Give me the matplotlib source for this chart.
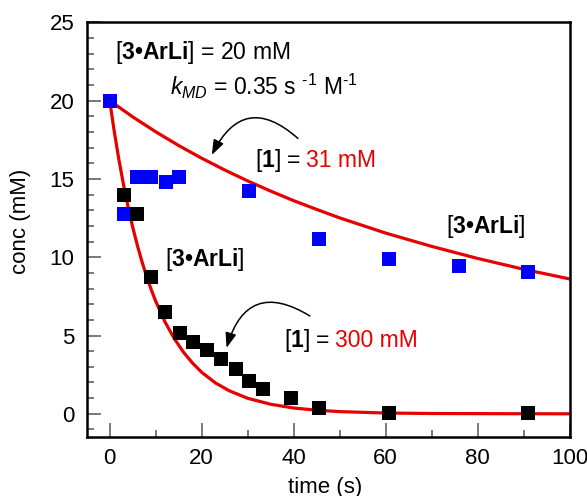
import matplotlib
matplotlib.use("Agg")
import matplotlib.pyplot as plt
from matplotlib.ticker import MultipleLocator
from matplotlib.offsetbox import TextArea, HPacker, AnnotationBbox

plt.rcParams['font.family'] = ['Liberation Sans', 'DejaVu Sans']
plt.rcParams['mathtext.fontset'] = 'custom'
plt.rcParams['mathtext.rm'] = 'Liberation Sans'
plt.rcParams['mathtext.it'] = 'Liberation Sans:italic'
plt.rcParams['mathtext.bf'] = 'Liberation Sans:bold'

# ---- data ----
blue_t = [0, 3.1, 6.0, 9.05, 12.2, 15.1, 30.3, 45.5, 60.7, 76.0, 91.0]
blue_c = [20.0, 12.75, 15.1, 15.15, 14.8, 15.15, 14.25, 11.18, 9.86, 9.44, 9.06]

black_t = [3.1, 6.0, 8.9, 12.1, 15.2, 18.1, 21.15, 24.3, 27.4, 30.3, 33.3, 39.35, 45.5, 60.7, 91.0]
black_c = [13.97, 12.74, 8.72, 6.5, 5.13, 4.6, 4.08, 3.52, 2.87, 2.07, 1.58, 0.99, 0.37, 0.02, 0.02]

fit31_t = [0, 5, 10, 15, 20, 25, 30, 35, 40, 45, 50, 60, 70, 80, 90, 100]
fit31_c = [20.0, 18.96, 18.01, 17.13, 16.32, 15.57, 14.87, 14.22, 13.61, 13.05, 12.51,
           11.54, 10.69, 9.92, 9.23, 8.61]

fit300_t = [0, 1, 2, 3, 4, 5, 6, 7, 8, 9, 10, 12, 14, 16, 18, 20, 23, 26, 30, 35,
            40, 45, 50, 60, 70, 80, 100]
fit300_c = [20.0, 18.01, 16.23, 14.64, 13.21, 11.92, 10.77, 9.73, 8.79, 7.95, 7.19,
            5.88, 4.82, 3.95, 3.24, 2.65, 1.97, 1.47, 0.99, 0.61, 0.37, 0.23, 0.14,
            0.05, 0.02, 0.01, 0.0]

x_ticks = [0, 20, 40, 60, 80, 100]
y_ticks = [0, 5, 10, 15, 20, 25]

RED = '#e60000'
BLUE = '#0000ff'
FS = 16
AFS = 16.5

fig = plt.figure(figsize=(5.87, 4.96), dpi=100)
ax = fig.add_axes([86.7 / 587, (496 - 437.3) / 496, 483 / 587, 415 / 496])

ax.plot(fit31_t, fit31_c, color=RED, lw=2.3, zorder=2, solid_capstyle='butt')
ax.plot(fit300_t, fit300_c, color=RED, lw=2.3, zorder=2, solid_capstyle='butt')
ax.plot(blue_t, blue_c, 's', color=BLUE, ms=9.4, mew=0, zorder=3)
ax.plot(black_t, black_c, 's', color='black', ms=9.4, mew=0, zorder=3)

ax.set_xlim(-5, 100)
ax.set_ylim(-1.5, 25)
ax.set_xticks(x_ticks)
ax.set_yticks(y_ticks)
ax.xaxis.set_minor_locator(MultipleLocator(10))
ax.yaxis.set_minor_locator(MultipleLocator(1))
ax.tick_params(which='both', direction='in', top=False, right=False, color='#555555')
ax.tick_params(which='major', length=10, width=1.1, labelsize=FS)
ax.tick_params(which='minor', length=5, width=1.1)
ax.tick_params(axis='x', which='major', pad=8)
ax.tick_params(axis='y', which='major', pad=9)
for s in ax.spines.values():
    s.set_linewidth(1.8)
    s.set_color('black')

fig.text(325 / 587, (496 - 487) / 496, 'time (s)', ha='center', va='center', fontsize=FS)
fig.text(21 / 587, (496 - 221.5) / 496, 'conc (mM)', ha='center', va='center',
         rotation=90, fontsize=FS)

# annotations
ax.text(1.1, 23.07, r'[$\mathbf{3•ArLi}$] = 20 mM', fontsize=AFS, ha='left', va='center')
ax.text(13.2, 20.36, r'$k_{MD}$ = 0.35 s $^{\text{-1}}$ M$^{\text{-1}}$', fontsize=AFS,
        ha='left', va='baseline')
ax.text(73.0, 11.95, r'[$\mathbf{3•ArLi}$]', fontsize=AFS, ha='left', va='center')
ax.text(11.96, 9.87, r'[$\mathbf{3•ArLi}$]', fontsize=AFS, ha='left', va='center')


def two_color(x, y, left, right):
    a = TextArea(left, textprops=dict(fontsize=AFS, color='black'))
    b = TextArea(right, textprops=dict(fontsize=AFS, color=RED))
    pk = HPacker(children=[a, b], align='baseline', pad=0, sep=4)
    ab = AnnotationBbox(pk, (x, y), xycoords='data', box_alignment=(0, 0.5),
                        frameon=False, pad=0)
    ax.add_artist(ab)


two_color(31.5, 16.2, r'[$\mathbf{1}$] =', '31 mM')
two_color(37.8, 4.71, r'[$\mathbf{1}$] =', '300 mM')

arrowprops = dict(arrowstyle='-|>,head_length=0.6,head_width=0.22', mutation_scale=15,
                  color='black', lw=1.1, shrinkA=0, shrinkB=0,
                  connectionstyle='arc3,rad=0.65')
ax.annotate('', xy=(22.2, 16.53), xytext=(40.9, 17.59), arrowprops=arrowprops)
ax.annotate('', xy=(25.4, 4.21), xytext=(43.5, 6.25), arrowprops=arrowprops)

fig.savefig('out.png', dpi=100)
